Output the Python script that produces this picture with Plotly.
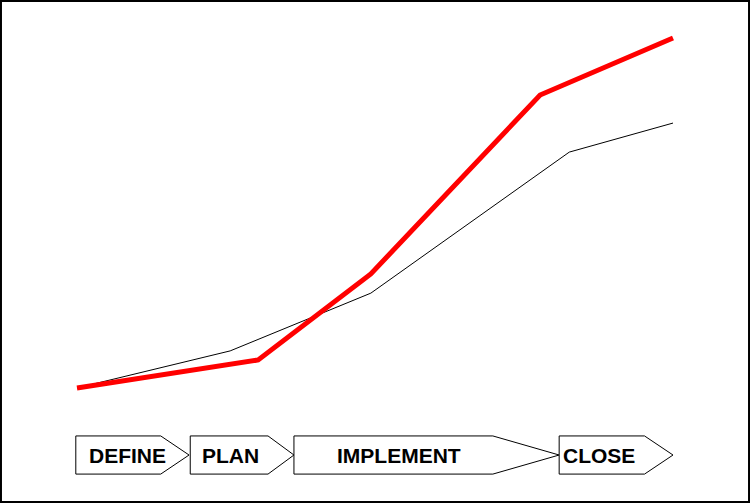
import plotly.graph_objects as go

# Progress curves (x: % of project timeline, y: % complete)
black_x = [0, 25.7, 49.3, 82.6, 100]
black_y = [0, 10.6, 27.1, 67.4, 75.7]
red_x = [0, 30.4, 49.3, 77.7, 100]
red_y = [0, 8.0, 32.6, 83.7, 100]

# Phase bands along the timeline
phase_names = ["DEFINE", "PLAN", "IMPLEMENT", "CLOSE"]
phase_start = [-0.2, 19.0, 36.4, 80.9]
phase_end = [18.8, 36.4, 80.9, 100.0]
label_x = [8.4, 25.8, 54.0, 87.5]

band_top = -13.7
band_bottom = -24.6

fig = go.Figure()

for name, s, e in zip(phase_names, phase_start, phase_end):
    w = e - s
    body_end = s + 0.75 * w
    mid = (band_top + band_bottom) / 2
    fig.add_trace(go.Scatter(
        x=[s, body_end, e, body_end, s, s],
        y=[band_top, band_top, mid, band_bottom, band_bottom, band_top],
        mode="lines", fill="toself", fillcolor="white",
        line=dict(color="black", width=1), hoverinfo="skip", showlegend=False,
    ))

for name, lx in zip(phase_names, label_x):
    fig.add_annotation(x=lx, y=(band_top + band_bottom) / 2, text="<b>%s</b>" % name,
                       showarrow=False, xanchor="center", yanchor="middle",
                       font=dict(family="Liberation Sans, Arial", size=21, color="black"))

fig.add_trace(go.Scatter(x=black_x, y=black_y, mode="lines",
                         line=dict(color="black", width=1), showlegend=False))
fig.add_trace(go.Scatter(x=red_x, y=red_y, mode="lines",
                         line=dict(color="red", width=5), showlegend=False))

fig.add_shape(type="rect", xref="paper", yref="paper", x0=0.0013, y0=0.002, x1=0.9987, y1=0.998,
              line=dict(color="black", width=2), layer="above")

fig.update_layout(
    width=750, height=503,
    margin=dict(l=0, r=0, t=0, b=0),
    paper_bgcolor="white", plot_bgcolor="white",
    xaxis=dict(range=[-12.92, 112.92], visible=False, showgrid=False, zeroline=False),
    yaxis=dict(range=[-32.86, 110.86], visible=False, showgrid=False, zeroline=False),
    showlegend=False,
)

fig.write_html("out.html", config={"displayModeBar": False},
               post_script="document.body.style.margin='0';")
